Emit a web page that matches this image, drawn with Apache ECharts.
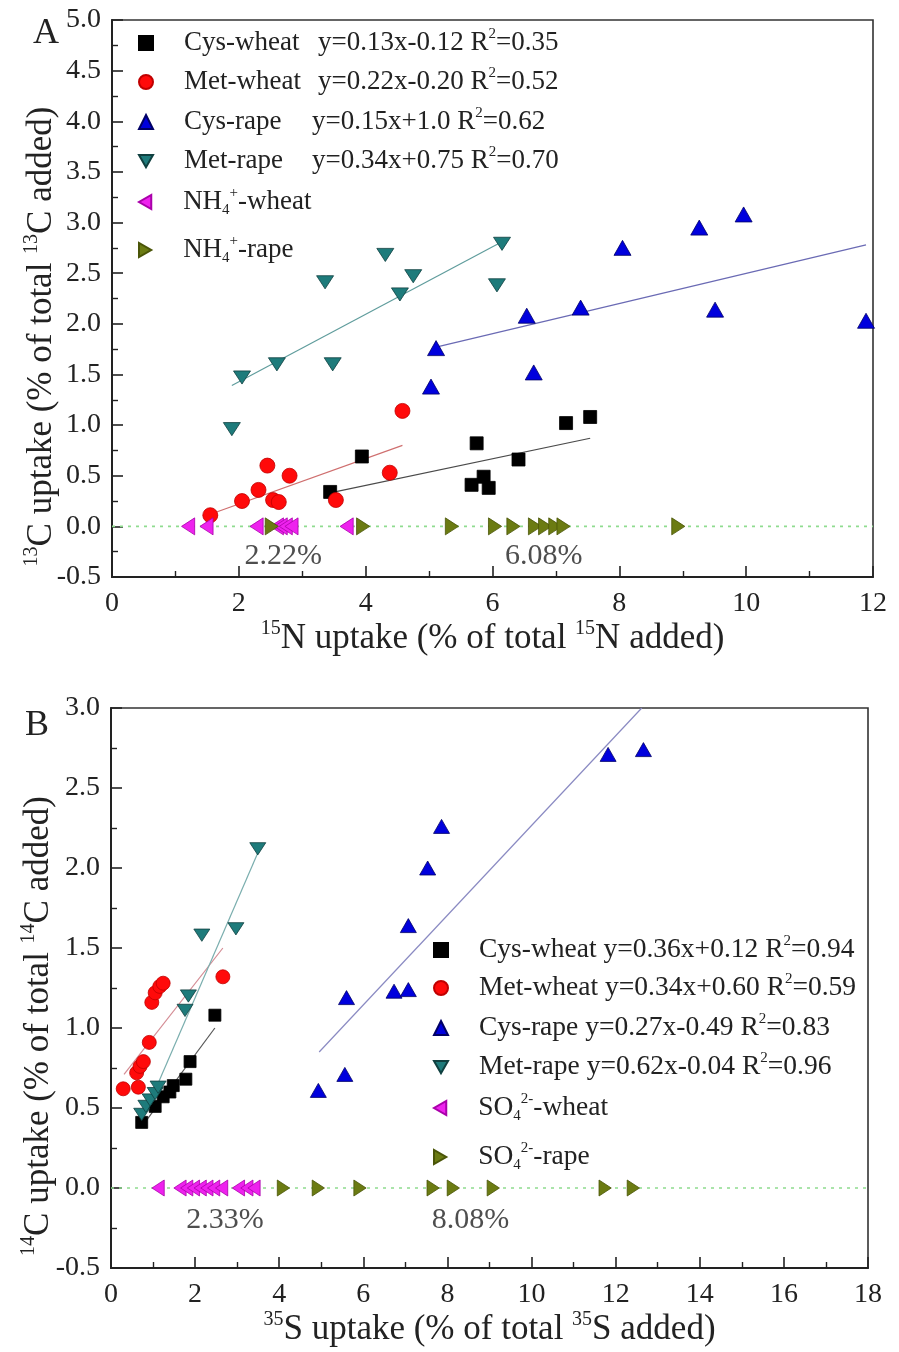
<!DOCTYPE html>
<html>
<head>
<meta charset="utf-8">
<script src="https://cdn.jsdelivr.net/npm/echarts@6/dist/echarts.min.js"></script>
<style>
  html, body { margin: 0; padding: 0; background: #fff; }
  #chart { width: 899px; height: 1352px; }
</style>
</head>
<body>
<div id="chart"></div>
<script>
// ---- panel A: 15N uptake vs 13C uptake ----
const cysWheatA = [[3.44,0.34],[3.94,0.69],[5.67,0.41],[5.75,0.82],[5.86,0.49],[5.94,0.38],[6.41,0.66],[7.16,1.02],[7.54,1.08]];
const metWheatA = [[1.55,0.11],[2.05,0.25],[2.31,0.36],[2.45,0.60],[2.54,0.26],[2.63,0.24],[2.80,0.50],[3.53,0.26],[4.38,0.53],[4.58,1.14]];
const cysRapeA = [[5.03,1.38],[5.11,1.76],[6.54,2.08],[6.65,1.52],[7.39,2.16],[8.05,2.75],[9.26,2.95],[9.51,2.14],[9.96,3.08],[11.89,2.03]];
const metRapeA = [[1.89,0.96],[2.05,1.47],[2.60,1.60],[3.36,2.41],[3.48,1.60],[4.31,2.68],[4.54,2.29],[4.75,2.47],[6.07,2.38],[6.15,2.79]];
const nh4WheatA = [1.20,1.49,2.28,2.60,2.66,2.74,2.83,3.70];
const nh4RapeA = [2.52,3.96,5.36,6.04,6.33,6.67,6.83,6.99,7.12,8.93];
// fitted lines, end points
const fitCysWheatA = [[3.44,0.33],[7.54,0.87]];
const fitMetWheatA = [[1.55,0.12],[4.58,0.80]];
const fitCysRapeA = [[5.11,1.77],[11.89,2.78]];
const fitMetRapeA = [[1.89,1.39],[6.12,2.80]];
const notesA = [['2.22%',2.70,-0.29],['6.08%',6.81,-0.29]];

// ---- panel B: 35S uptake vs 14C uptake ----
const cysWheatB = [[0.73,0.41],[1.05,0.51],[1.24,0.57],[1.40,0.60],[1.48,0.64],[1.78,0.68],[1.88,0.79],[2.47,1.08]];
const metWheatB = [[0.29,0.62],[0.65,0.63],[0.61,0.72],[0.69,0.76],[0.77,0.79],[0.91,0.91],[0.97,1.16],[1.05,1.22],[1.16,1.26],[1.24,1.28],[2.66,1.32]];
const cysRapeB = [[4.93,0.61],[5.56,0.71],[5.60,1.19],[6.73,1.23],[7.07,1.24],[7.07,1.64],[7.53,2.00],[7.86,2.26],[11.82,2.71],[12.66,2.74]];
const metRapeB = [[0.73,0.46],[0.83,0.51],[0.93,0.55],[1.05,0.59],[1.12,0.63],[1.76,1.11],[1.84,1.20],[2.16,1.58],[2.97,1.62],[3.49,2.12]];
const so4WheatB = [1.12,1.64,1.80,1.96,2.12,2.28,2.44,2.63,3.03,3.23,3.40];
const so4RapeB = [4.10,4.93,5.92,7.66,8.14,9.09,11.75,12.42];
const fitCysWheatB = [[0.75,0.39],[2.47,1.00]];
const fitMetWheatB = [[0.31,0.71],[2.66,1.50]];
const fitCysRapeB = [[4.95,0.85],[12.62,3.0]];
const fitMetRapeB = [[0.75,0.43],[3.50,2.10]];
const notesB = [['2.33%',2.71,-0.20],['8.08%',8.55,-0.20]];

const FONT = "'Liberation Serif', 'Times New Roman', serif";
const INK = '#222';

const DOWN = 'path://M0,0L16,0L8,14Z';
const LEFT = 'path://M14,0L14,16L0,8Z';
const RIGHT = 'path://M0,0L0,16L14,8Z';

function legendRich(size) {
  return {
    t: { fontFamily: FONT, fontSize: size, lineHeight: 32, color: INK },
    s: { fontFamily: FONT, fontSize: 15, lineHeight: 14, verticalAlign: 'top', color: INK },
    d: { fontFamily: FONT, fontSize: 15, lineHeight: 10, verticalAlign: 'bottom', color: INK },
    nw: { fontFamily: FONT, fontSize: size, lineHeight: 32, color: INK, width: 134 },
    nr: { fontFamily: FONT, fontSize: size, lineHeight: 32, color: INK, width: 128 },
  };
}

const legendTextA = {
  'A Cys-wheat': '{nw|Cys-wheat}{t|y=0.13x-0.12 R}{s|2}{t|=0.35}',
  'A Met-wheat': '{nw|Met-wheat}{t|y=0.22x-0.20 R}{s|2}{t|=0.52}',
  'A Cys-rape': '{nr|Cys-rape}{t|y=0.15x+1.0 R}{s|2}{t|=0.62}',
  'A Met-rape': '{nr|Met-rape}{t|y=0.34x+0.75 R}{s|2}{t|=0.70}',
  'A NH4-wheat': '{t|NH}{d|4}{s|+}{t|-wheat}',
  'A NH4-rape': '{t|NH}{d|4}{s|+}{t|-rape}',
};
const legendTextB = {
  'B Cys-wheat': '{t|Cys-wheat y=0.36x+0.12 R}{s|2}{t|=0.94}',
  'B Met-wheat': '{t|Met-wheat y=0.34x+0.60 R}{s|2}{t|=0.59}',
  'B Cys-rape': '{t|Cys-rape y=0.27x-0.49 R}{s|2}{t|=0.83}',
  'B Met-rape': '{t|Met-rape y=0.62x-0.04 R}{s|2}{t|=0.96}',
  'B SO4-wheat': '{t|SO}{d|4}{s|2-}{t|-wheat}',
  'B SO4-rape': '{t|SO}{d|4}{s|2-}{t|-rape}',
};
const legendRowsA = [43, 82, 122, 161, 202, 250];
const legendRowsB = [950, 988, 1028, 1067, 1108, 1157];

function scatter(name, idx, data, symbol, size, color, border) {
  return {
    name, type: 'scatter', xAxisIndex: idx, yAxisIndex: idx, data,
    symbol, symbolSize: size, symbolKeepAspect: true, z: 5,
    itemStyle: { color, opacity: 1, borderColor: border, borderWidth: 0.8 },
  };
}
function fit(idx, data, color) {
  return {
    type: 'line', xAxisIndex: idx, yAxisIndex: idx, data, symbol: 'none',
    silent: true, z: 3, lineStyle: { color, width: 1.2 },
  };
}
function zeroLine(idx, xmax) {
  return {
    type: 'line', xAxisIndex: idx, yAxisIndex: idx, data: [[0, 0], [xmax, 0]],
    symbol: 'none', silent: true, z: 2,
    lineStyle: { color: '#8fdc8f', width: 1.6, type: [3, 5] },
  };
}
function notes(idx, list) {
  return {
    type: 'scatter', xAxisIndex: idx, yAxisIndex: idx, symbolSize: 0, silent: true,
    data: list.map(([text, x, y]) => ({ name: text, value: [x, y] })),
    label: { show: true, position: 'inside', formatter: '{b}', fontFamily: FONT, fontSize: 30, color: INK },
  };
}
function legends(left, centers, texts, size) {
  return Object.keys(texts).map((name, i) => ({
    data: [name], orient: 'vertical', left, top: centers[i] - 16,
    padding: 0, itemGap: 0, itemWidth: 14, itemHeight: 14, selectedMode: false,
    symbolKeepAspect: true,
    formatter: (n) => texts[n],
    textStyle: { padding: [0, 0, 0, 26], rich: legendRich(size) },
  }));
}
function valueAxis(grid, min, max, interval, decimals, margin) {
  return {
    type: 'value', gridIndex: grid, min, max, interval,
    axisLine: { show: true, onZero: false, lineStyle: { color: INK, width: 2 } },
    axisTick: { show: true, inside: true, length: 11, lineStyle: { color: INK, width: 1.6 } },
    minorTick: { show: true, splitNumber: 2, length: 6, lineStyle: { color: INK, width: 1.4 } },
    splitLine: { show: false },
    axisLabel: {
      fontFamily: FONT, fontSize: 28, color: INK, margin,
      formatter: (v) => v.toFixed(decimals),
    },
    nameLocation: 'middle',
  };
}
function axisName(iso, elem) {
  return '{s|' + iso + '}{t|' + elem + ' uptake (% of total }{s|' + iso + '}{t|' + elem + ' added)}';
}
const nameRich = {
  t: { fontFamily: FONT, fontSize: 35, lineHeight: 40, color: INK },
  s: { fontFamily: FONT, fontSize: 20, lineHeight: 16, verticalAlign: 'top', color: INK },
};

const chart = echarts.init(document.getElementById('chart'), null, { renderer: 'canvas' });
chart.setOption({
  backgroundColor: '#fff',
  animation: false,
  grid: [
    { left: 112, top: 20, width: 761, height: 557, show: true, borderColor: '#333', borderWidth: 1.6 },
    { left: 111, top: 708, width: 757, height: 560, show: true, borderColor: '#333', borderWidth: 1.6 },
  ],
  xAxis: [
    Object.assign(valueAxis(0, 0, 12, 2, 0, 13), {
      name: axisName(15, 'N'), nameGap: 38, nameTextStyle: { rich: nameRich } }),
    Object.assign(valueAxis(1, 0, 18, 2, 0, 13), {
      name: axisName(35, 'S'), nameGap: 39, nameTextStyle: { rich: nameRich } }),
  ],
  yAxis: [
    Object.assign(valueAxis(0, -0.5, 5.0, 0.5, 1, 11), {
      name: axisName(13, 'C'), nameGap: 50, nameMoveOverlap: false,
      nameTextStyle: { rich: nameRich, padding: [0, 76, 0, 0] } }),
    Object.assign(valueAxis(1, -0.5, 3.0, 0.5, 1, 11), {
      name: axisName(14, 'C'), nameGap: 52, nameMoveOverlap: false,
      nameTextStyle: { rich: nameRich, padding: [0, 76, 0, 0] } }),
  ],
  legend: [
    ...legends(138, legendRowsA, legendTextA, 27),
    ...legends(433, legendRowsB, legendTextB, 27.5),
  ],
  graphic: [
    { type: 'text', left: 33, top: 16, style: { text: 'A', font: '36px ' + FONT, fill: INK } },
    { type: 'text', left: 25, top: 708, style: { text: 'B', font: '36px ' + FONT, fill: INK } },
  ],
  series: [
    zeroLine(0, 12),
    fit(0, fitCysWheatA, '#4a4a4a'),
    fit(0, fitMetWheatA, '#cf6f6f'),
    fit(0, fitCysRapeA, '#6a6ab4'),
    fit(0, fitMetRapeA, '#5f9c9c'),
    scatter('A Cys-wheat', 0, cysWheatA, 'rect', 13, '#000', '#000'),
    scatter('A Met-wheat', 0, metWheatA, 'circle', 15, '#ff0a0a', '#c00000'),
    scatter('A Cys-rape', 0, cysRapeA, 'triangle', [17, 15], '#0000dd', '#000066'),
    scatter('A Met-rape', 0, metRapeA, DOWN, [17, 15], '#1e7b7b', '#104040'),
    scatter('A NH4-wheat', 0, nh4WheatA.map((x) => [x, 0]), LEFT, [15, 17], '#ee22ee', '#aa00aa'),
    scatter('A NH4-rape', 0, nh4RapeA.map((x) => [x, 0]), RIGHT, [15, 17], '#6b7b12', '#4a5508'),
    notes(0, notesA),

    zeroLine(1, 18),
    fit(1, fitCysWheatB, '#555'),
    fit(1, fitMetWheatB, '#d48c94'),
    fit(1, fitCysRapeB, '#8a8ac2'),
    fit(1, fitMetRapeB, '#7aaeae'),
    scatter('B Cys-wheat', 1, cysWheatB, 'rect', 12, '#000', '#000'),
    scatter('B Met-wheat', 1, metWheatB, 'circle', 14, '#ff0a0a', '#c00000'),
    scatter('B Cys-rape', 1, cysRapeB, 'triangle', [16, 14], '#0000dd', '#000066'),
    scatter('B Met-rape', 1, metRapeB, DOWN, [16, 14], '#1e7b7b', '#104040'),
    scatter('B SO4-wheat', 1, so4WheatB.map((x) => [x, 0]), LEFT, [14, 16], '#ee22ee', '#aa00aa'),
    scatter('B SO4-rape', 1, so4RapeB.map((x) => [x, 0]), RIGHT, [14, 16], '#6b7b12', '#4a5508'),
    notes(1, notesB),
  ],
});
</script>
</body>
</html>
